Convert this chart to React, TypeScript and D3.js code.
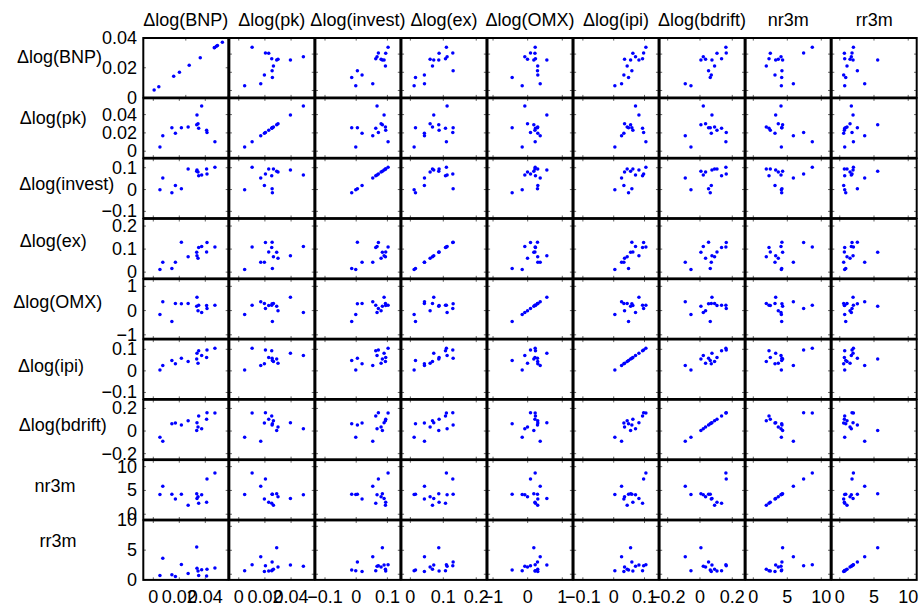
import React from "react";
import * as d3 from "d3";

// ---- data: 14 observations per variable ----
const variableNames = ["Δlog(BNP)", "Δlog(pk)", "Δlog(invest)", "Δlog(ex)", "Δlog(OMX)", "Δlog(ipi)", "Δlog(bdrift)", "nr3m", "rr3m"];

const bnp = [0.0051, 0.0073, 0.0143, 0.017, 0.0216, 0.0268, 0.0334, 0.0336, 0.0344, 0.0349, 0.0372, 0.041, 0.0413, 0.0474];
const pk = [0.0045, 0.0168, 0.0257, 0.0196, 0.0255, 0.0265, 0.029, 0.0395, 0.03, 0.0252, 0.0494, 0.0229, 0.0204, 0.0102];
const invest = [-0.0014, 0.0531, -0.0144, 0.0188, 0.0038, 0.0937, 0.0839, 0.0894, 0.0798, 0.0627, 0.0668, 0.0946, 0.0711, 0.1022];
const ex = [0.0114, 0.0428, 0.0155, 0.0425, 0.1298, 0.0671, 0.0862, 0.071, 0.0599, 0.1066, 0.1115, 0.0872, 0.1288, 0.1094];
const omx = [-0.158, 0.362, -0.448, 0.293, 0.284, 0.29, 0.178, 0.554, -0.004, 0.225, -0.082, 0.21, 0.082, 0.217];
const ipi = [0.0037, 0.0255, 0.0481, 0.033, 0.0589, 0.0437, 0.0548, 0.0818, 0.0352, 0.0936, 0.0708, 0.0622, 0.097, 0.1044];
const bdrift = [-0.0558, -0.0911, 0.0637, 0.07, 0.0531, 0.0905, 0.0058, 0.0742, 0.0347, 0.1337, 0.0205, 0.1053, 0.1626, 0.1605];
const nr3m = [4.125, 5.89, 4.175, 3.19, 4.21, 1.91, 4.31, 3.29, 3.675, 2.31, 4.075, 2.5, 7.4, 8.675];
const rr3m = [0.72, 3.64, 0.87, 0.57, 2.57, 1.06, 5.54, 1.94, 1.5, 0.72, 1.69, 0.67, 1.79, 1.99];

const series = [bnp, pk, invest, ex, omx, ipi, bdrift, nr3m, rr3m];

// axis limits of each variable (shared by its row and column)
const domains: [number, number][] = [
  [-0.0077, 0.0577],
  [-0.0072, 0.0578],
  [-0.1308, 0.1417],
  [-0.0271, 0.231],
  [-1.16, 1.295],
  [-0.1303, 0.1455],
  [-0.25, 0.2763],
  [-1.125, 11.375],
  [-1.18, 11.24],
];

const tickValues = [
  [0, 0.02, 0.04],
  [0, 0.02, 0.04],
  [-0.1, 0, 0.1],
  [0, 0.1, 0.2],
  [-1, 0, 1],
  [-0.1, 0, 0.1],
  [-0.2, 0, 0.2],
  [0, 5, 10],
  [0, 5, 10],
];

// two panels keep their own automatic limits
const panelOverrides: Record<string, { x?: [number, number]; y?: [number, number] }> = {
  "0-0": { x: [0, 0.04], y: [0, 0.04] },
  "8-0": { y: [0, 10] },
};

// ---- layout ----
const W = 920;
const H = 611;
const X0 = 143.3;
const COL_PITCH = 86.05;
const PW = 85;
const Y0 = 38;
const ROW_PITCH = 60.3;
const PH = 59.5;
const TICK = 2.6;
const FONT = "'Liberation Sans', Arial, Helvetica, sans-serif";
const rowLabelX = [59.5, 53.3, 66.7, 53.3, 57.7, 51, 62.8, 55, 58];
const rowLabelBaseline = [62.6, 123.6, 189.6, 247, 308, 372, 431, 491.5, 546.5];

const fmt = d3.format("~g");

function inDomain(v: number, d: [number, number]) {
  const eps = (d[1] - d[0]) * 1e-6;
  return v >= d[0] - eps && v <= d[1] + eps;
}

export default function App() {
  const n = variableNames.length;
  const panels: any[] = [];
  const leftLabels: any[] = [];
  const bottomLabels: any[] = [];

  for (let i = 0; i < n; i++) {
    for (let j = 0; j < n; j++) {
      const left = X0 + j * COL_PITCH;
      const top = Y0 + i * ROW_PITCH;
      const ov = panelOverrides[`${i}-${j}`] || {};
      const xd = ov.x || domains[j];
      const yd = ov.y || domains[i];
      const x = d3.scaleLinear().domain(xd).range([left, left + PW]);
      const y = d3.scaleLinear().domain(yd).range([top + PH, top]);
      const xt = tickValues[j].filter((t) => inDomain(t, xd));
      const yt = tickValues[i].filter((t) => inDomain(t, yd));
      const id = `clip-${i}-${j}`;

      panels.push(
        <g key={id}>
          <clipPath id={id}>
            <rect x={left} y={top} width={PW} height={PH} />
          </clipPath>
          <rect x={left} y={top} width={PW} height={PH} fill="#fff" />
          {xt.map((t) => (
            <g key={"x" + t}>
              <line x1={x(t)} x2={x(t)} y1={top + PH} y2={top + PH - TICK} stroke="#222" strokeWidth={0.7} />
              <line x1={x(t)} x2={x(t)} y1={top} y2={top + TICK} stroke="#222" strokeWidth={0.7} />
            </g>
          ))}
          {yt.map((t) => (
            <g key={"y" + t}>
              <line x1={left} x2={left + TICK} y1={y(t)} y2={y(t)} stroke="#222" strokeWidth={0.7} />
              <line x1={left + PW} x2={left + PW - TICK} y1={y(t)} y2={y(t)} stroke="#222" strokeWidth={0.7} />
            </g>
          ))}
          <g clipPath={`url(#${id})`}>
            {series[j].map((v, k) => (
              <circle key={k} cx={x(v)} cy={y(series[i][k])} r={1.75} fill="#0000ff" />
            ))}
          </g>
          <rect x={left} y={top} width={PW} height={PH} fill="none" stroke="#000" strokeWidth={2} />
        </g>
      );

      if (j === 0) {
        yt.forEach((t) =>
          leftLabels.push(
            <text key={`yl-${i}-${t}`} x={137} y={y(t)} textAnchor="end" dominantBaseline="central">
              {fmt(t)}
            </text>
          )
        );
      }
      if (i === n - 1) {
        xt.forEach((t) =>
          bottomLabels.push(
            <text key={`xl-${j}-${t}`} x={x(t)} y={602.5} textAnchor="middle">
              {fmt(t)}
            </text>
          )
        );
      }
    }
  }

  return (
    <svg
      width={W}
      height={H}
      viewBox={`0 0 ${W} ${H}`}
      style={{ position: "absolute", left: 0, top: 0, background: "#fff" }}
      fontFamily={FONT}
      fontSize={18}
    >
      <rect x={0} y={0} width={W} height={H} fill="#fff" />
      {panels}
      <g fill="#000">
        {variableNames.map((name, j) => (
          <text key={"t" + j} x={X0 + j * COL_PITCH + PW / 2} y={26} textAnchor="middle">
            {name}
          </text>
        ))}
        {variableNames.map((name, i) => (
          <text key={"r" + i} x={rowLabelX[i]} y={rowLabelBaseline[i]} textAnchor="middle">
            {name}
          </text>
        ))}
        {leftLabels}
        {bottomLabels}
      </g>
    </svg>
  );
}
